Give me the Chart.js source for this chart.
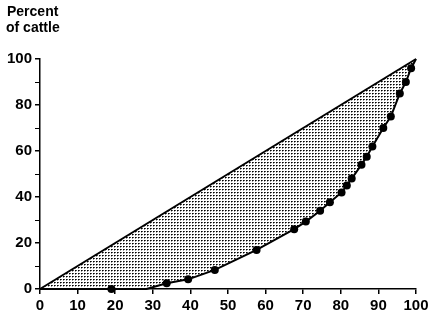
<!DOCTYPE html>
<html>
<head>
<meta charset="utf-8">
<script src="https://cdn.jsdelivr.net/npm/chart.js@4.4.1/dist/chart.umd.min.js"></script>
<style>
html,body{margin:0;padding:0;background:#fff;}
#wrap{width:434px;height:318px;position:relative;}
</style>
</head>
<body>
<div id="wrap"><canvas id="c" width="434" height="318"></canvas></div>
<script>
// Percent of herds (x) vs cumulative percent of cattle (y)
const herdPercent   = [0, 19, 28.3, 33.7, 39.4, 46.5, 57.6, 67.6, 70.7, 74.5, 77.1, 80.2, 81.6, 82.9, 85.5, 86.9, 88.4, 91.3, 93.3, 95.7, 97.3, 98.7, 100];
const cattlePercent = [0, 0, 0, 2.5, 4.2, 8.3, 17, 26, 29.3, 34, 37.7, 42, 45, 48, 54, 57.5, 62, 70, 75, 85, 90, 96, 100];
const markerShown   = [0, 1, 0, 1, 1, 1, 1, 1, 1, 1, 1, 1, 1, 1, 1, 1, 1, 1, 1, 1, 1, 1, 0];
const equalityX = [0, 100];
const equalityY = [0, 100];
const xTicks = [0,10,20,30,40,50,60,70,80,90,100];
const yTicks = [0,10,20,30,40,50,60,70,80,90,100];
const yLabelStep = 20;
const titleLines = ['Percent', 'of cattle'];

function stipple(){
  const p = document.createElement('canvas');
  p.width = 3; p.height = 3;
  const g = p.getContext('2d');
  g.fillStyle = '#fff'; g.fillRect(0,0,3,3);
  g.fillStyle = '#000'; g.fillRect(0,0,1,1);
  g.fillStyle = 'rgba(0,0,0,0.7)'; g.fillRect(1,0,1,1);
  g.fillStyle = 'rgba(0,0,0,0.4)'; g.fillRect(0,1,1,1);
  return document.getElementById('c').getContext('2d').createPattern(p,'repeat');
}

const FAMILY = '"Liberation Sans", Arial, sans-serif';
const titlePlugin = {
  id: 'topTitle',
  afterDraw(chart){
    const ctx = chart.ctx;
    ctx.save();
    ctx.fillStyle = '#000';
    ctx.font = 'bold 14px ' + FAMILY;
    ctx.textBaseline = 'top';
    ctx.textAlign = 'left';
    ctx.fillText(titleLines[0], 7, 5);
    ctx.fillText(titleLines[1], 6, 21);
    ctx.restore();
  }
};

const font = {family: FAMILY, size: 15, weight: 'bold'};

new Chart(document.getElementById('c'), {
  type: 'line',
  data: {
    datasets: [
      {
        data: equalityX.map((x,i)=>({x, y: equalityY[i]})),
        borderColor: '#000', borderWidth: 2, pointRadius: 0, fill: false, clip: false, tension: 0
      },
      {
        data: herdPercent.map((x,i)=>({x, y: cattlePercent[i]})),
        borderColor: '#000', borderWidth: 2,
        pointRadius: herdPercent.map((x,i)=> markerShown[i] ? 4 : 0),
        pointBackgroundColor: '#000', pointBorderColor: '#000', pointBorderWidth: 0,
        fill: {target: 0}, backgroundColor: stipple(), clip: false, tension: 0
      }
    ]
  },
  options: {
    responsive: false,
    animation: false,
    layout: {padding: {top: 59, right: 18, left: 0, bottom: 0}},
    plugins: {legend: {display: false}, tooltip: {enabled: false}, title: {display: false}},
    scales: {
      x: {
        type: 'linear', min: 0, max: 100,
        afterBuildTicks: s => { s.ticks = xTicks.map(v=>({value:v})); },
        afterFit: s => { s.height = 29; },
        ticks: {color: '#000', font, padding: 3, maxRotation: 0, autoSkip: false},
        grid: {display: true, drawOnChartArea: false, drawTicks: true, tickLength: 5, color: '#000', lineWidth: 1.5},
        border: {display: true, color: '#000', width: 1.5}
      },
      y: {
        type: 'linear', min: 0, max: 100,
        afterBuildTicks: s => { s.ticks = yTicks.map(v=>({value:v})); },
        afterFit: s => { s.width = 40; },
        ticks: {color: '#000', font, padding: 3, autoSkip: false,
          callback: v => (v % yLabelStep === 0 ? String(v) : '')},
        grid: {display: true, drawOnChartArea: false, drawTicks: true,
          tickLength: 5, color: '#000', lineWidth: ctx => (ctx.tick && ctx.tick.value % yLabelStep !== 0 ? 1 : 1.5)},
        border: {display: true, color: '#000', width: 1.5}
      }
    }
  },
  plugins: [titlePlugin]
});
</script>
</body>
</html>
